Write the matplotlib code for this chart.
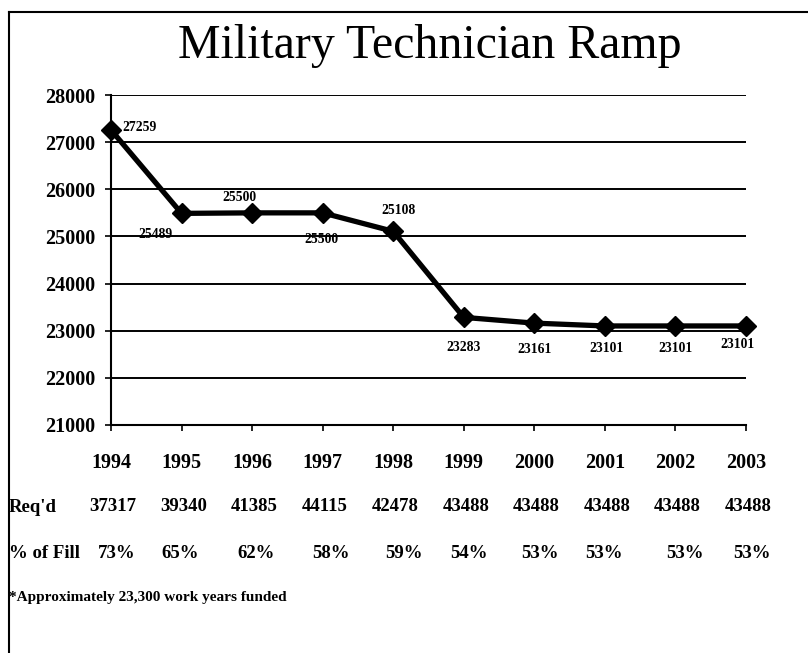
import matplotlib
matplotlib.use("Agg")
import matplotlib.pyplot as plt
from matplotlib.lines import Line2D

years = [1994, 1995, 1996, 1997, 1998, 1999, 2000, 2001, 2002, 2003]
values = [27259, 25489, 25500, 25500, 25108, 23283, 23161, 23101, 23101, 23101]
reqd = [37317, 39340, 41385, 44115, 42478, 43488, 43488, 43488, 43488, 43488]
fill_pct = ["73%", "65%", "62%", "58%", "59%", "54%", "53%", "53%", "53%", "53%"]
yticks = [21000, 22000, 23000, 24000, 25000, 26000, 27000, 28000]
title = "Military Technician Ramp"
footnote = "*Approximately 23,300 work years funded"

# label offsets in points (dx, dy, ha)
label_offsets = [(8, 2, 'left'), (-19, -15, 'center'), (-9, 11, 'center'), (-1, -19, 'center'),
                 (4, 15, 'center'), (0, -22, 'center'), (0, -19, 'center'), (1, -16.5, 'center'),
                 (0, -16.5, 'center'), (-6, -13, 'center')]
# small horizontal shifts (points) of the % of Fill row
fill_dx = [4, -1, 3, 6, 8, 4, 4, -1, 7, 4]

serif = ['Liberation Serif', 'DejaVu Serif']
fig = plt.figure(figsize=(8.08, 6.53), dpi=100)
ax = fig.add_axes([111/808, 1-425/653, (746-111)/808, (425-95)/653])

ax.plot(years, values, color='black', lw=3.8, marker='D', markersize=10.5,
        solid_joinstyle='miter', zorder=3, clip_on=False)
for x, v, (dx, dy, ha) in zip(years, values, label_offsets):
    ax.annotate(str(v), (x, v), xytext=(dx, dy), textcoords='offset points',
                ha=ha, va='center', fontsize=9.8, fontweight='bold', family=serif)

ax.set_xlim(years[0], years[-1])
ax.set_ylim(yticks[0], yticks[-1])
ax.set_yticks(yticks)
ax.set_yticklabels([str(t) for t in yticks], fontsize=14.5, fontweight='bold', family=serif)
ax.set_xticks(years)
ax.set_xticklabels([])
ax.tick_params(axis='both', direction='out', length=4, width=1.2, color='black')
ax.tick_params(axis='y', pad=7)
for t in yticks[1:]:
    ax.axhline(t, color='black', lw=1.4, zorder=1)
ax.spines['top'].set_visible(False)
ax.spines['right'].set_visible(False)
ax.spines['left'].set_linewidth(1.5)
ax.spines['bottom'].set_linewidth(1.5)

trans = ax.get_xaxis_transform()
for x in years:
    ax.text(x, -0.115, str(x), transform=trans, ha='center', va='center',
            fontsize=14.5, fontweight='bold', family=serif)
for x, r in zip(years, reqd):
    ax.annotate(str(r), (x, -0.248), xycoords=trans, xytext=(1.5, 0),
                textcoords='offset points', ha='center', va='center',
                fontsize=13.5, fontweight='bold', family=serif)
for x, p, dx in zip(years, fill_pct, fill_dx):
    ax.annotate(p, (x, -0.388), xycoords=trans, xytext=(dx, 0),
                textcoords='offset points', ha='center', va='center',
                fontsize=13.5, fontweight='bold', family=serif)

fig.text(9/808, 1-507/653, "Req'd", ha='left', va='center', fontsize=13.5,
         fontweight='bold', family=serif)
fig.text(9/808, 1-553/653, "% of Fill", ha='left', va='center', fontsize=13.5,
         fontweight='bold', family=serif)
fig.text(9/808, 1-598/653, footnote, ha='left', va='center', fontsize=11,
         fontweight='bold', family=serif)
fig.text(430/808, 1-46/653, title, ha='center', va='center', fontsize=34.5, family=serif)

# page border (top and left)
fig.add_artist(Line2D([9/808, 1.0], [1-12/653, 1-12/653], transform=fig.transFigure,
                      color='black', lw=1.5))
fig.add_artist(Line2D([9/808, 9/808], [0.0, 1-12/653], transform=fig.transFigure,
                      color='black', lw=1.5))

fig.savefig("out.png", dpi=100)
